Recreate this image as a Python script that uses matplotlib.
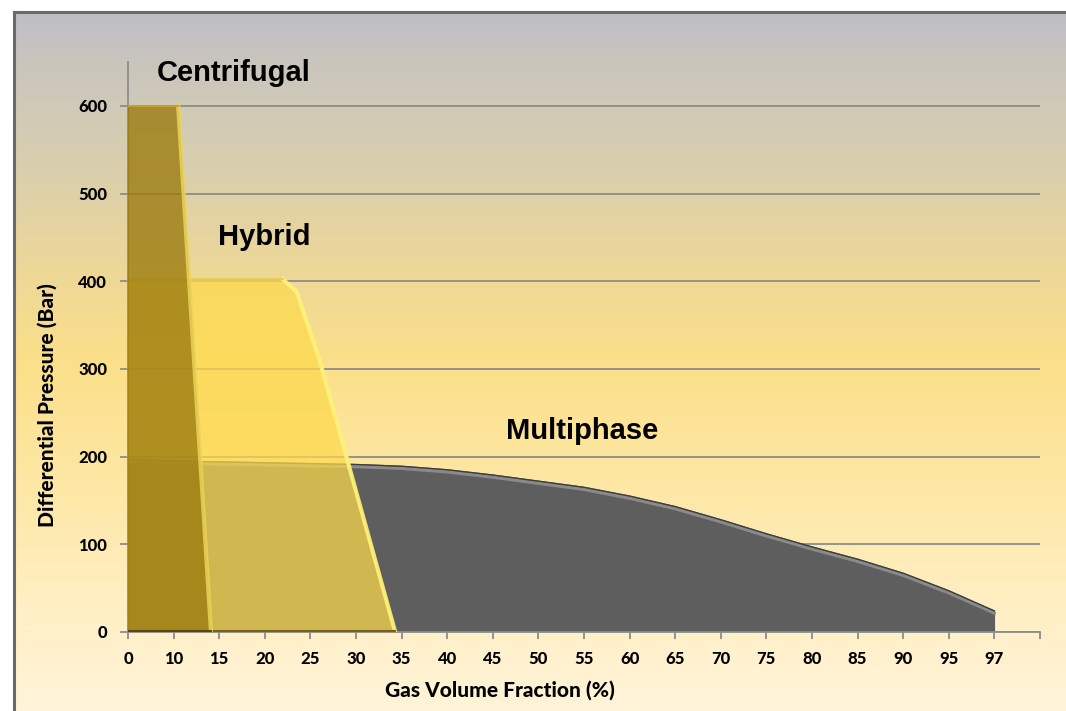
import numpy as np
import matplotlib.pyplot as plt
from matplotlib.colors import LinearSegmentedColormap
from matplotlib.lines import Line2D

# x axis is categorical: one slot per listed GVF value
gvf_ticks = [0, 10, 15, 20, 25, 30, 35, 40, 45, 50, 55, 60, 65, 70, 75, 80, 85, 90, 95, 97]
gvf_labels = [str(v) for v in gvf_ticks]

# pump envelopes (GVF %, differential pressure bar)
centrifugal_gvf = [0, 0, 10.5, 14.1]
centrifugal_dp = [0, 600, 600, 0]

hybrid_gvf = [0, 0, 22, 23.5, 26, 34.3]
hybrid_dp = [0, 402, 402, 388, 310, 0]

multi_gvf = [0, 0, 10, 15, 20, 25, 30, 35, 40, 45, 50, 55, 60, 65, 70, 75, 80, 85, 90, 95, 97, 97]
multi_dp = [0, 197, 195, 194, 193, 192, 191, 189, 185, 179, 172, 165, 155, 143, 128, 112, 97, 83, 67, 47, 24, 0]


def to_slot(g):
    # GVF value -> position along the category axis
    return np.interp(g, gvf_ticks, np.arange(len(gvf_ticks)))


fig = plt.figure(figsize=(10.66, 7.11), dpi=100)
fig.patch.set_facecolor('white')

# background gradient panel
bg = fig.add_axes([14 / 1066, 0, 1 - 14 / 1066, 1 - 12 / 711])
bg.set_axis_off()
grad = LinearSegmentedColormap.from_list('bg', [
    (0.00, '#bebfc4'), (0.08, '#cac6bd'), (0.22, '#d9cfae'),
    (0.36, '#ecd799'), (0.50, '#fbdf89'), (0.65, '#fde6a0'),
    (0.88, '#fff0c8'), (1.00, '#fff4d9')])
bg.imshow(np.linspace(0, 1, 256).reshape(-1, 1), aspect='auto', cmap=grad,
          extent=[0, 1, 0, 1])

# panel border (left and top)
fig.add_artist(Line2D([14 / 1066, 14 / 1066], [0, 1 - 12 / 711], color='#6a6a6e', lw=2.2))
fig.add_artist(Line2D([14 / 1066, 1], [1 - 12 / 711, 1 - 12 / 711], color='#6a6a6e', lw=2.2))

ax = fig.add_axes([128 / 1066, 1 - 632 / 711, (1040 - 128) / 1066, (632 - 62) / 711])
ax.set_facecolor('none')
ax.set_axisbelow(True)

# Multiphase (opaque dark grey)
mx, my = to_slot(multi_gvf), np.array(multi_dp)
ax.fill(mx, my, color='#5e5e5e', zorder=2)
ax.plot(mx[1:-1], my[1:-1] - 2.5, color='#8a8a8a', lw=2.2, zorder=2.1)
ax.plot(mx[1:-1], my[1:-1], color='#3e3e3e', lw=0.9, zorder=2.2)

# Hybrid (translucent yellow)
hx, hy = to_slot(hybrid_gvf), np.array(hybrid_dp)
ax.fill(hx, hy, color='#fcd94c', alpha=0.73, zorder=3)
ax.plot(hx[2:], hy[2:], color='#fff27c', lw=3, alpha=0.9, zorder=3.1)
ax.plot(hx[1:3], hy[1:3], color='#e8c84a', lw=1.2, zorder=3.1)
ax.plot(hx[[0, -1]], [1.5, 1.5], color='#7a6410', lw=1.5, zorder=3.1)

# Centrifugal (translucent dark gold)
cx, cy = to_slot(centrifugal_gvf), np.array(centrifugal_dp)
ax.fill(cx, cy, color='#9c7c10', alpha=0.8, zorder=4)
ax.plot(cx[2:], cy[2:], color='#ecd45a', lw=3, alpha=0.85, zorder=4.1)
ax.plot(cx[1:3], cy[1:3], color='#c4a232', lw=1.5, zorder=4.1)
ax.plot(cx[[0, -1]], [1.5, 1.5], color='#5a4808', lw=1.5, zorder=4.1)

# envelope names
label_font = dict(family=['Liberation Sans', 'DejaVu Sans'], fontweight='bold',
                  fontsize=21, color='black', va='center', ha='left')
ax.text(to_slot(6.4), 637, 'Centrifugal', **label_font)
ax.text(to_slot(14.9), 450, 'Hybrid', **label_font)
ax.text(to_slot(46.4), 229, 'Multiphase', **label_font)

ax.set_xlim(0, len(gvf_ticks))
ax.set_ylim(0, 650)
ax.set_xticks(np.arange(len(gvf_ticks) + 1))
ax.set_xticklabels(gvf_labels + [''])
ax.set_yticks(np.arange(0, 601, 100))

ax.grid(axis='y', color='#8c8c8c', lw=1.3)
ax.grid(axis='x', visible=False)
for side in ['top', 'right']:
    ax.spines[side].set_visible(False)
for side in ['left', 'bottom']:
    ax.spines[side].set_color('#8c8c8c')
    ax.spines[side].set_linewidth(1.3)

ax.tick_params(axis='both', colors='#8c8c8c', labelcolor='black', width=1.3)
ax.tick_params(axis='y', length=6, pad=9)
ax.tick_params(axis='x', length=5, pad=9)
for lbl in ax.get_xticklabels() + ax.get_yticklabels():
    lbl.set_fontfamily(['Lato', 'DejaVu Sans'])
    lbl.set_fontweight('black')
    lbl.set_fontsize(12)

title_font = dict(fontfamily=['Lato', 'DejaVu Sans'], fontweight='black', fontsize=15)
ax.set_xlabel('Gas Volume Fraction (%)', **title_font)
ax.set_ylabel('Differential Pressure (Bar)', **title_font)
ax.xaxis.set_label_coords((500 - 128) / 912, -(680 - 632) / 570)
ax.yaxis.set_label_coords(-(128 - 57) / 912, (632 - 405) / 570)

fig.savefig('out.png', dpi=100)
